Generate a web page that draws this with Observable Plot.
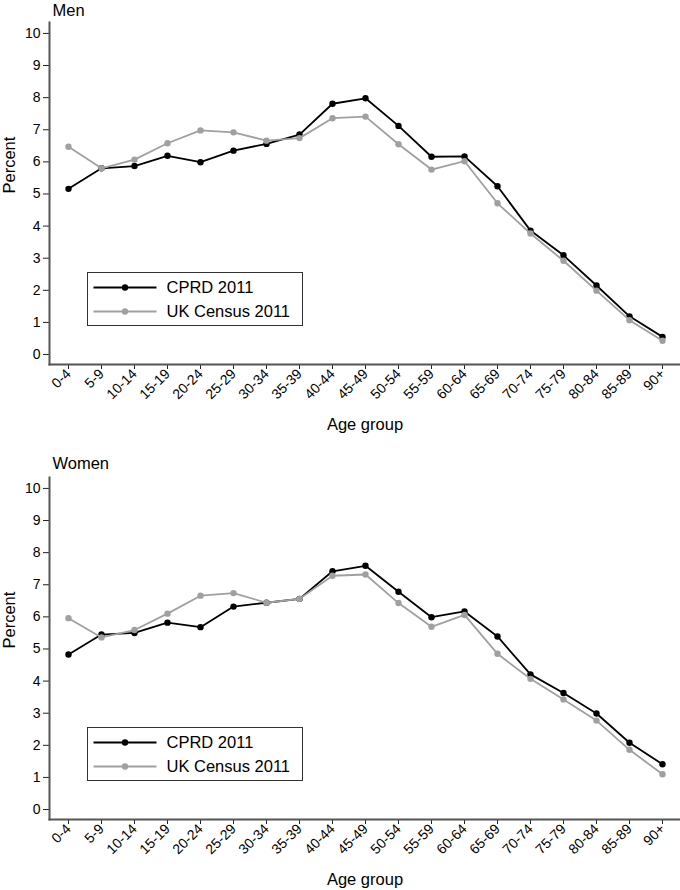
<!DOCTYPE html>
<html>
<head>
<meta charset="utf-8">
<script src="https://cdn.jsdelivr.net/npm/d3@7"></script>
<script src="https://cdn.jsdelivr.net/npm/@observablehq/plot@0.6"></script>
<style>
  body { margin: 0; background: white; }
  #wrap { position: relative; width: 680px; height: 890px; font-family: "Liberation Sans", Arial, Helvetica, sans-serif; }
  .panel { position: absolute; left: 0; width: 680px; height: 445px; }
  .legend { position: absolute; left: 87px; width: 216px; height: 54px; box-sizing: border-box; border: 1.5px solid #333; background: white; }
  .legend svg { display: block; }
</style>
</head>
<body>
<div id="wrap"></div>
<script>
const ages = ["0-4","5-9","10-14","15-19","20-24","25-29","30-34","35-39","40-44","45-49","50-54","55-59","60-64","65-69","70-74","75-79","80-84","85-89","90+"];
const menCPRD   = [5.16,5.80,5.87,6.19,5.99,6.35,6.56,6.85,7.81,7.98,7.12,6.16,6.17,5.24,3.86,3.09,2.15,1.19,0.55];
const menCensus = [6.47,5.80,6.07,6.58,6.98,6.92,6.66,6.74,7.36,7.41,6.55,5.76,6.02,4.71,3.77,2.92,1.99,1.07,0.43];
const womenCPRD   = [4.83,5.45,5.50,5.82,5.68,6.32,6.44,6.56,7.42,7.59,6.78,5.99,6.17,5.39,4.21,3.63,2.99,2.08,1.41];
const womenCensus = [5.96,5.36,5.59,6.10,6.66,6.74,6.44,6.56,7.28,7.32,6.43,5.69,6.06,4.85,4.07,3.43,2.77,1.86,1.10];
const yTicks = [0,1,2,3,4,5,6,7,8,9,10];
const seriesNames = ["CPRD 2011", "UK Census 2011"];
const seriesColors = ["#000000", "#a0a0a0"];
const panelTitles = ["Men", "Women"];
const yLabel = "Percent";
const xLabel = "Age group";

const FONT = '"Liberation Sans", Arial, Helvetica, sans-serif';
const yDomain = [-0.31, 10.34];

function rows(arr) { return ages.map((a, i) => ({age: a, value: arr[i]})); }

function panel(title, cprd, census, opts) {
  const c = rows(cprd), g = rows(census);
  return Plot.plot({
    width: 680, height: 445,
    marginLeft: 49, marginRight: 0, marginTop: opts.top, marginBottom: opts.bottom,
    style: {fontFamily: FONT, fontSize: "14px", background: "white", color: "black", overflow: "visible"},
    x: {type: "point", domain: ages, padding: 0.3, label: null},
    y: {domain: yDomain, label: null},
    marks: [
      Plot.axisY(yTicks, {tickSize: 6, tickPadding: 3, label: null, fontSize: 14, stroke: "#222"}),
      Plot.axisX({tickSize: 5, tickPadding: 2, tickRotate: -45, label: null, fontSize: 14, stroke: "#222"}),
      Plot.frame({anchor: "left", stroke: "#555", strokeWidth: 2}),
      Plot.frame({anchor: "bottom", stroke: "#555", strokeWidth: 2}),
      Plot.line(c, {x: "age", y: "value", stroke: seriesColors[0], strokeWidth: 1.8}),
      Plot.dot(c, {x: "age", y: "value", fill: seriesColors[0], r: 3.2}),
      Plot.line(g, {x: "age", y: "value", stroke: seriesColors[1], strokeWidth: 1.8}),
      Plot.dot(g, {x: "age", y: "value", fill: seriesColors[1], r: 3.2}),
      Plot.text([title], {text: d => d, frameAnchor: "top-left", textAnchor: "start", lineAnchor: "bottom", dx: 3, dy: opts.titleDy, fontSize: 16.5, fill: "black"}),
      Plot.text([yLabel], {text: d => d, frameAnchor: "left", rotate: -90, dx: -40, fontSize: 16.5, fill: "black"}),
      Plot.text([xLabel], {text: d => d, frameAnchor: "bottom", lineAnchor: "bottom", dy: 65, fontSize: 16.5, fill: "black"})
    ]
  });
}

function legend() {
  const ns = "http://www.w3.org/2000/svg";
  const div = document.createElement("div");
  div.className = "legend";
  const svg = document.createElementNS(ns, "svg");
  svg.setAttribute("width", 213);
  svg.setAttribute("height", 51);
  seriesNames.forEach((name, i) => {
    const cy = 14.5 + i * 24;
    const line = document.createElementNS(ns, "line");
    line.setAttribute("x1", 5.5); line.setAttribute("x2", 68.5);
    line.setAttribute("y1", cy); line.setAttribute("y2", cy);
    line.setAttribute("stroke", seriesColors[i]); line.setAttribute("stroke-width", 1.8);
    svg.appendChild(line);
    const dot = document.createElementNS(ns, "circle");
    dot.setAttribute("cx", 37); dot.setAttribute("cy", cy); dot.setAttribute("r", 3.2);
    dot.setAttribute("fill", seriesColors[i]);
    svg.appendChild(dot);
    const t = document.createElementNS(ns, "text");
    t.setAttribute("x", 78.5); t.setAttribute("y", cy);
    t.setAttribute("dy", "0.35em");
    t.setAttribute("font-size", 16.5);
    t.setAttribute("font-family", FONT);
    t.textContent = name;
    svg.appendChild(t);
  });
  div.appendChild(svg);
  return div;
}

const wrap = document.getElementById("wrap");
const specs = [
  {title: panelTitles[0], cprd: menCPRD, census: menCensus, top: 22, bottom: 81, titleDy: -7, offset: 0, legendTop: 272},
  {title: panelTitles[1], cprd: womenCPRD, census: womenCensus, top: 32, bottom: 71, titleDy: -9, offset: 445, legendTop: 727}
];
specs.forEach(s => {
  const holder = document.createElement("div");
  holder.className = "panel";
  holder.style.top = s.offset + "px";
  holder.appendChild(panel(s.title, s.cprd, s.census, s));
  wrap.appendChild(holder);
  const lg = legend();
  lg.style.top = s.legendTop + "px";
  wrap.appendChild(lg);
});
</script>
</body>
</html>
